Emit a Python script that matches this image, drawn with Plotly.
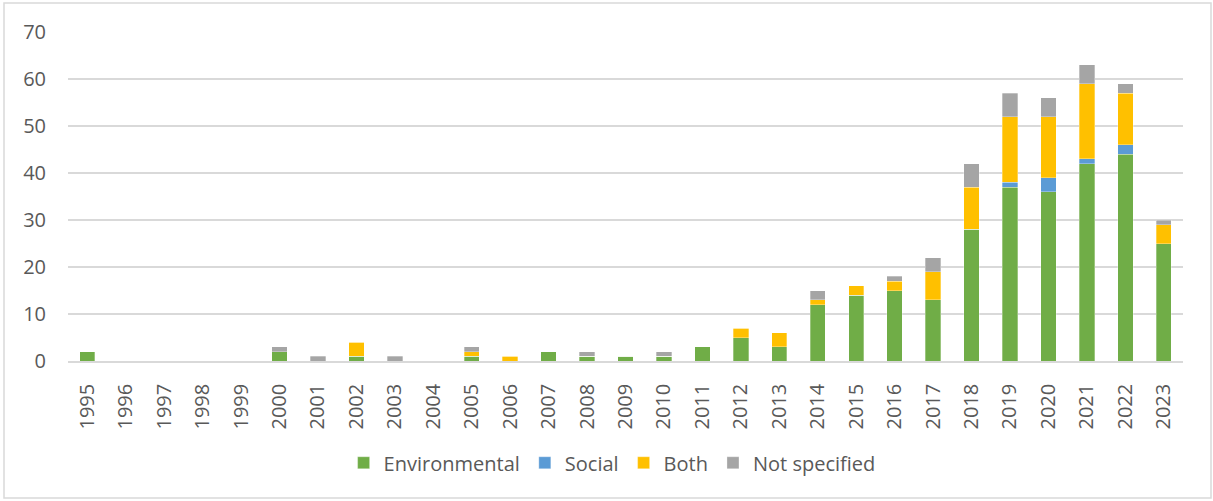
import plotly.graph_objects as go

years = [str(y) for y in range(1995, 2024)]

environmental = [2, 0, 0, 0, 0, 2, 0, 1, 0, 0, 1, 0, 2, 1, 1, 1, 3, 5, 3, 12, 14, 15, 13, 28, 37, 36, 42, 44, 25]
social =        [0, 0, 0, 0, 0, 0, 0, 0, 0, 0, 0, 0, 0, 0, 0, 0, 0, 0, 0, 0, 0, 0, 0, 0, 1, 3, 1, 2, 0]
both =          [0, 0, 0, 0, 0, 0, 0, 3, 0, 0, 1, 1, 0, 0, 0, 0, 0, 2, 3, 1, 2, 2, 6, 9, 14, 13, 16, 11, 4]
not_specified = [0, 0, 0, 0, 0, 1, 1, 0, 1, 0, 1, 0, 0, 1, 0, 1, 0, 0, 0, 2, 0, 1, 3, 5, 5, 4, 4, 2, 1]

series = [
    ("Environmental", environmental, "#70AD47"),
    ("Social", social, "#5B9BD5"),
    ("Both", both, "#FFC000"),
    ("Not specified", not_specified, "#A5A5A5"),
]

FONT = "Open Sans"
TEXT = "#595959"

fig = go.Figure()
for name, vals, color in series:
    fig.add_trace(go.Bar(
        x=years, y=vals, name=name,
        marker=dict(color=color, line=dict(color="rgba(255,255,255,0.6)", width=0.5)),
    ))

fig.update_layout(
    barmode="stack",
    bargap=0.6,
    width=1213, height=501,
    margin=dict(l=68, r=30, t=32, b=140),
    paper_bgcolor="white",
    plot_bgcolor="white",
    font=dict(family=FONT, color=TEXT, size=20),
    xaxis=dict(
        type="category",
        tickangle=-90,
        tickfont=dict(size=20, color=TEXT),
        showgrid=False,
        showline=True, linecolor="#d9d9d9", linewidth=1.5,
        ticks="", ticklabelstandoff=13,
    ),
    yaxis=dict(
        range=[0, 70],
        dtick=10,
        tickfont=dict(size=20, color=TEXT),
        showgrid=True, gridcolor="#d9d9d9", gridwidth=1.5,
        zeroline=False,
        ticks="", ticklabelstandoff=21,
    ),
    legend=dict(
        orientation="h",
        x=0.488, xanchor="center",
        y=-0.25, yanchor="top",
        font=dict(size=20, color=TEXT),
        traceorder="normal",
        itemwidth=30,
    ),
    shapes=[dict(
        type="rect", xref="paper", yref="paper",
        x0=(4 - 68) / 1115, x1=(1211 - 68) / 1115,
        y0=(361 - 498) / 329, y1=(361 - 3) / 329,
        line=dict(color="#d9d9d9", width=1.5),
        fillcolor="rgba(0,0,0,0)",
        layer="below",
    )],
)

fig.write_html("out.html")
